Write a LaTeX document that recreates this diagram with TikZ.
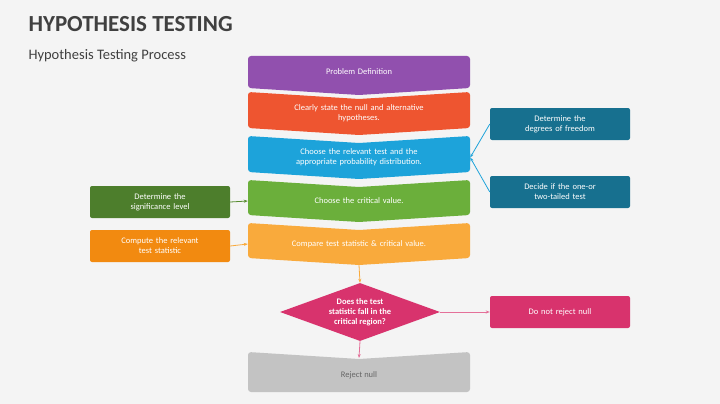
\documentclass[tikz,border=0pt]{standalone}
\usepackage{fontspec}
\setmainfont{Carlito}
\usetikzlibrary{shapes.geometric,arrows.meta}
\definecolor{bgGray}{HTML}{F4F4F4}
\definecolor{cPurple}{HTML}{9150AE}
\definecolor{cRed}{HTML}{EE5530}
\definecolor{cBlue}{HTML}{1DA3DA}
\definecolor{cGreen}{HTML}{6BAF3B}
\definecolor{cLight}{HTML}{F9AA3C}
\definecolor{cGrey}{HTML}{C3C3C3}
\definecolor{cDkGreen}{HTML}{4D7E2C}
\definecolor{cOrange}{HTML}{F28A10}
\definecolor{cTeal}{HTML}{17708F}
\definecolor{cMagenta}{HTML}{D8336D}
\tikzset{
    stage/.style={text=white, font=\fontsize{8.5}{10}\selectfont, align=center, text width=200pt},
    side/.style={fill=#1, rounded corners=2pt, minimum width=140pt, minimum height=32pt,
        text=white, font=\fontsize{8.5}{10}\selectfont, align=center, text width=130pt},
    link/.style={draw=#1, line width=0.8pt, -{Stealth[length=4pt]}}
}
% chevron: name, top, bottom, colour, notch depth, text
\newcommand\chevron[6]{%
    \fill[#4, rounded corners=3pt] (248,#2) -- (359,#2+#5) -- (470,#2) -- (470,#3)
        -- (359,#3+7) -- (248,#3) -- cycle;
    \node[stage, minimum width=222pt, minimum height=#3-#2] (#1) at (359,{(#2+#3)/2+#5/2}) {#6};
}
\begin{document}
\begin{tikzpicture}[x=1pt, y=-1pt]
    \fill[bgGray] (0,0) rectangle (720,404);
    \useasboundingbox (0,0) rectangle (720,404);

    % title
    \node[anchor=west, font=\bfseries\fontsize{23}{26}\selectfont, text=black!75] (title) at (25,24) {HYPOTHESIS TESTING};
    \node[anchor=west, font=\fontsize{14.5}{17}\selectfont, text=black!75] (subtitle) at (25,56) {Hypothesis Testing Process};

    % main stages
    \chevron{define}{56}{88}{cPurple}{0}{Problem Definition}
    \chevron{state}{92}{128}{cRed}{7}{Clearly state the null and alternative\\hypotheses.}
    \chevron{test}{136}{172}{cBlue}{7}{Choose the relevant test and the\\appropriate probability distribution.}
    \chevron{critical}{180}{215}{cGreen}{7}{Choose the critical value.}
    \chevron{compare}{223}{258}{cLight}{7}{Compare test statistic \& critical value.}

    % decision
    \node[diamond, fill=cMagenta, aspect=2.8, minimum width=160pt, minimum height=58pt, inner sep=0pt,
        text=white, font=\bfseries\fontsize{8.5}{10}\selectfont, align=center] (decide) at (360,312)
        {Does the test\\statistic fall in the\\critical region?};

    % reject null
    \fill[cGrey, rounded corners=3pt] (248,352) -- (359,359) -- (470,352) -- (470,392) -- (248,392) -- cycle;
    \node[minimum width=222pt, minimum height=36pt, text=black!60, font=\fontsize{8.5}{10}\selectfont] (reject) at (359,375) {Reject null};

    % side boxes
    \node[side=cTeal] (freedom) at (560,124) {Determine the\\degrees of freedom};
    \node[side=cTeal] (tailed) at (560,192) {Decide if the one-or\\two-tailed test};
    \node[side=cDkGreen] (signif) at (160,202) {Determine the\\significance level};
    \node[side=cOrange] (statistic) at (160,246) {Compute the relevant\\test statistic};
    \node[side=cMagenta] (keep) at (560,312) {Do not reject null};

    % connectors
    \draw[link=cBlue] (freedom.west) -- (test.east);
    \draw[link=cBlue] (tailed.west) -- (test.east);
    \draw[link=cGreen!80!black] (signif.east) -- (critical.west);
    \draw[link=cLight] (statistic.east) -- (compare.west);
    \draw[link=cLight] (359,265) -- (decide.north);
    \draw[link=cMagenta!70] (decide.east) -- (keep.west);
    \draw[link=cMagenta!70] (decide.south) -- (359,358);
\end{tikzpicture}
\end{document}
